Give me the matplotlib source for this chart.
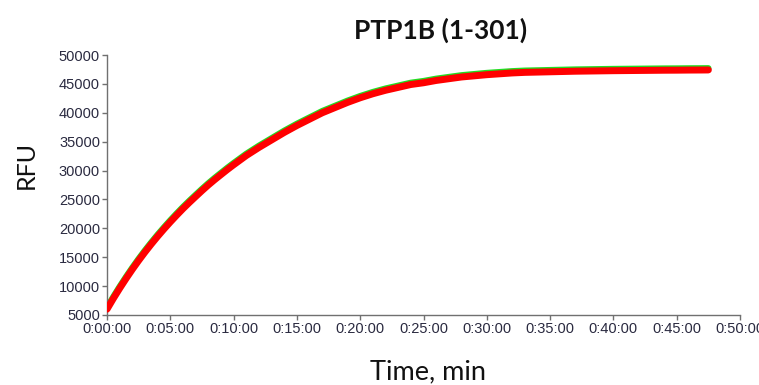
import matplotlib.pyplot as plt
from matplotlib.ticker import FixedLocator

# time in minutes, RFU readings of the measured trace (red)
time_min = [0, 0.5, 1, 1.5, 2, 2.5, 3, 3.5, 4, 4.5, 5, 5.5, 6, 6.5, 7, 7.5, 8, 8.5,
            9, 9.5, 10, 11, 12, 13, 14, 15, 16, 17, 18, 19, 20, 21, 22, 23, 24, 25,
            26, 27, 28, 29, 30, 31, 32, 33, 34, 35, 36, 37, 38, 39, 40, 41, 42, 43,
            44, 45, 46, 47, 47.5]
rfu_data = [6000, 7850, 9610, 11290, 12900, 14430, 15890, 17280, 18610, 19880,
            21100, 22270, 23400, 24470, 25500, 26520, 27500, 28420, 29300, 30170,
            31000, 32600, 34000, 35300, 36600, 37800, 38900, 40000, 40900, 41800,
            42600, 43300, 43900, 44400, 44900, 45200, 45600, 45900, 46200, 46400,
            46600, 46750, 46900, 47000, 47050, 47100, 47150, 47200, 47230, 47260,
            47290, 47310, 47330, 47350, 47370, 47380, 47400, 47410, 47420]
# fitted curve (green), sits just above the trace
rfu_fit = [6300, 8150, 9910, 11590, 13200, 14730, 16190, 17580, 18910, 20180,
           21400, 22570, 23700, 24770, 25800, 26820, 27800, 28720, 29600, 30470,
           31300, 32900, 34300, 35600, 36900, 38100, 39200, 40300, 41200, 42100,
           42900, 43600, 44200, 44700, 45200, 45500, 45900, 46200, 46500, 46700,
           46900, 47050, 47200, 47300, 47350, 47400, 47450, 47500, 47530, 47560,
           47590, 47610, 47630, 47650, 47670, 47680, 47700, 47710, 47720]

x_ticks = [0, 5, 10, 15, 20, 25, 30, 35, 40, 45, 50]
x_tick_labels = ["0:00:00", "0:05:00", "0:10:00", "0:15:00", "0:20:00", "0:25:00",
                 "0:30:00", "0:35:00", "0:40:00", "0:45:00", "0:50:00"]
y_ticks = [5000, 10000, 15000, 20000, 25000, 30000, 35000, 40000, 45000, 50000]


def main():
    fig = plt.figure(figsize=(7.59, 3.85), dpi=100)
    fig.patch.set_facecolor("white")
    ax = fig.add_axes([0.141, 0.182, 0.834, 0.675])

    ax.plot(time_min, rfu_fit, color="#22dd22", linewidth=4.5,
            solid_capstyle="round", zorder=2)
    ax.plot(time_min, rfu_data, color="#ff0000", linewidth=5,
            solid_capstyle="round", solid_joinstyle="round", zorder=3)

    ax.set_xlim(0, 50)
    ax.set_ylim(5000, 50000)
    ax.xaxis.set_major_locator(FixedLocator(x_ticks))
    ax.set_xticklabels(x_tick_labels)
    ax.yaxis.set_major_locator(FixedLocator(y_ticks))
    ax.set_yticklabels([str(v) for v in y_ticks])

    for spine in ["top", "right"]:
        ax.spines[spine].set_visible(False)
    for spine in ["left", "bottom"]:
        ax.spines[spine].set_color("#707070")
        ax.spines[spine].set_linewidth(1.0)

    ax.tick_params(axis="both", direction="out", length=3.5, width=1.0,
                   color="#707070", labelcolor="#2a2a40", labelsize=10.5, pad=1.5)
    for lab in ax.get_xticklabels() + ax.get_yticklabels():
        lab.set_fontfamily("Liberation Sans")

    fig.text(0.581, 0.9005, "PTP1B (1-301)", ha="center", va="baseline",
             fontsize=19, fontweight="bold", family="Lato", color="#111111")
    fig.text(0.564, 0.016, "Time, min", ha="center", va="baseline",
             fontsize=19.5, family="Lato", color="#111111")
    fig.text(0.0439, 0.571, "RFU", ha="center", va="baseline", rotation=90,
             rotation_mode="anchor", fontsize=18, family="Lato", color="#111111")

    fig.savefig("out.png", dpi=100, facecolor="white")
    plt.close(fig)


if __name__ == "__main__":
    main()
